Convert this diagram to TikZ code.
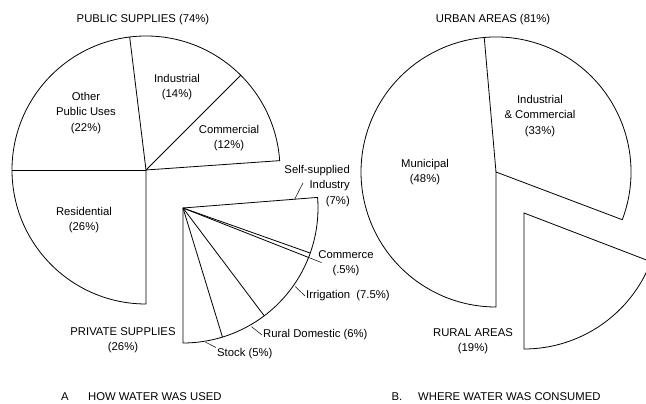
\documentclass[tikz,border=0pt]{standalone}
\usepackage{fontspec}
\setmainfont{Liberation Sans}
\usepackage{tikz}
\usetikzlibrary{calc}

\begin{document}
\begin{tikzpicture}[x=1pt,y=1pt,
		slice/.style={draw=black, line width=0.8pt, line join=miter},
		leader/.style={draw=black, line width=0.5pt},
		lbl/.style={align=center, inner sep=1pt, font=\fontsize{11.3}{15.5}\selectfont}]
		\useasboundingbox (0,0) rectangle (646,404);
		\clip (0,0) rectangle (646,404);

		% A: how water was used
		\coordinate (pub) at (146,234);
		\draw[slice] (pub) -- ++(4:134) arc[start angle=4, end angle=270, radius=134] -- cycle;
		\foreach \a in {45,97,180}
			\draw[slice] (pub) -- ++(\a:134);

		\coordinate (priv) at (183,196);
		\draw[slice] (priv) -- ++(4.5:135) arc[start angle=4.5, end angle=-90, radius=135] -- cycle;
		\foreach \a in {-19.5,-21.5,-53,-73}
			\draw[slice] (priv) -- ++(\a:135);

		\node[lbl] (pubT) at (143,384) {PUBLIC SUPPLIES (74\%)};
		\node[lbl] (other) at (86,291) {Other\\Public Uses\\(22\%)};
		\node[lbl] (ind) at (177,317) {Industrial\\(14\%)};
		\node[lbl] (com) at (229,266) {Commercial\\(12\%)};
		\node[lbl] (res) at (84,184) {Residential\\(26\%)};
		\node[lbl] (privT) at (123,64) {PRIVATE SUPPLIES\\(26\%)};
		\node[lbl, align=right, anchor=east] (self) at (351,218) {Self-supplied\\Industry\\(7\%)};
		\node[lbl] (cmrc) at (346,141) {Commerce\\(.5\%)};
		\node[lbl, anchor=west] (irr) at (305,108) {Irrigation\ \ (7.5\%)};
		\node[lbl, anchor=west] (rural) at (262,69) {Rural Domestic (6\%)};
		\node[lbl, anchor=west] (stock) at (216,50) {Stock (5\%)};

		\coordinate (selfA) at ($(priv)+(4.5:112)$);
		\coordinate (selfB) at (303,221);
		\coordinate (cmrcA) at ($(priv)+(-21.5:135)$);
		\coordinate (cmrcB) at ($(priv)+(-21.5:149)$);
		\coordinate (irrA) at ($(priv)+(-35:137)$);
		\coordinate (ruralA) at ($(priv)+(-60:137)$);
		\coordinate (stockA) at ($(priv)+(-80.5:136)$);
		\draw[leader] (selfA) -- (selfB);
		\draw[leader] (cmrcA) -- (cmrcB);
		\draw[leader] (irrA) -- (irr.west);
		\draw[leader] (ruralA) -- (rural.west);
		\draw[leader] (stockA) -- (stock.north west);

		% B: where water was consumed
		\coordinate (urb) at (496,232);
		\draw[slice] (urb) -- ++(-20.7:135) arc[start angle=-20.7, end angle=270, radius=135] -- cycle;
		\draw[slice] (urb) -- ++(95:135);

		\coordinate (rur) at (524,191);
		\draw[slice] (rur) -- ++(-90:136) arc[start angle=-90, end angle=-21, radius=136] -- cycle;

		\node[lbl] (urbT) at (493,384) {URBAN AREAS (81\%)};
		\node[lbl] (ic) at (540,288) {Industrial\\\& Commercial\\(33\%)};
		\node[lbl] (mun) at (425,232) {Municipal\\(48\%)};
		\node[lbl] (rurT) at (473,63) {RURAL AREAS\\(19\%)};

		\node[lbl] (capA) at (65,7) {A};
		\node[lbl, anchor=west] (capAt) at (87,7) {HOW WATER WAS USED};
		\node[lbl] (capB) at (397,7) {B.};
		\node[lbl, anchor=west] (capBt) at (417,7) {WHERE WATER WAS CONSUMED};
	\end{tikzpicture}
\end{document}
